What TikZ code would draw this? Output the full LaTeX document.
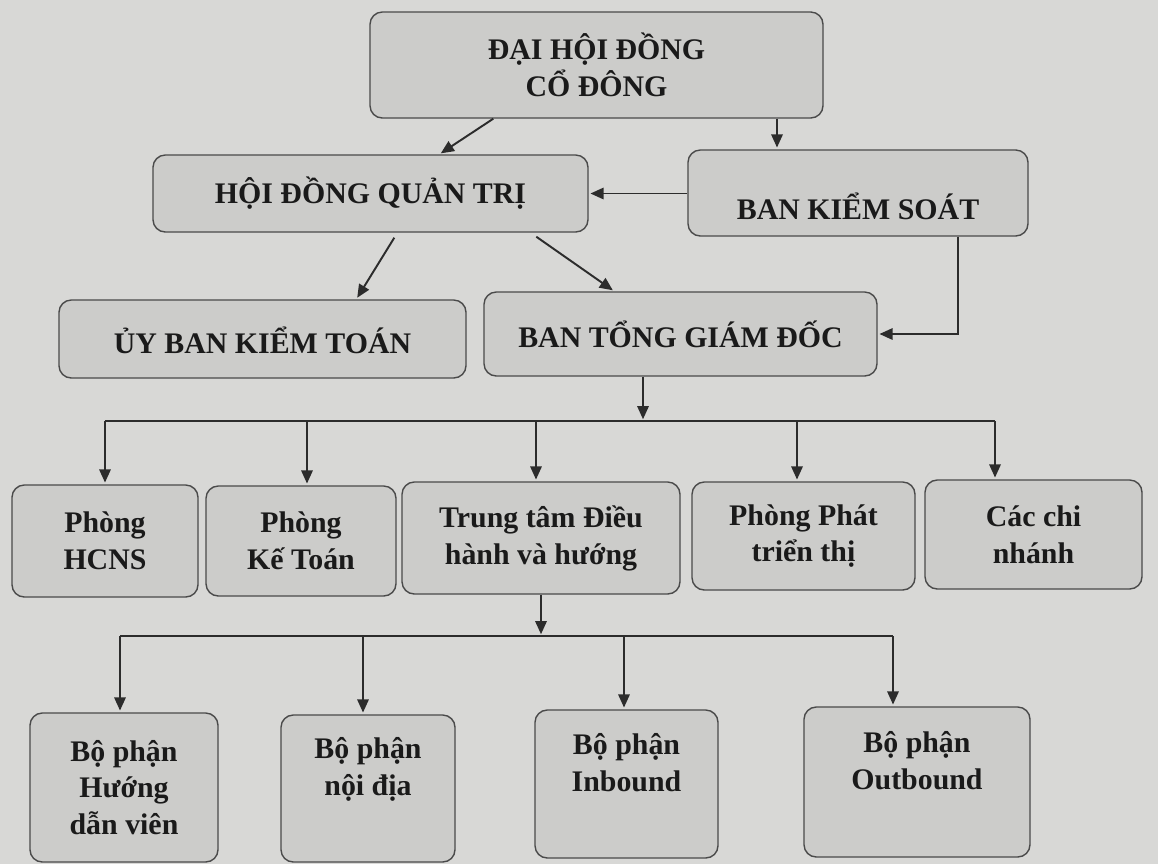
\documentclass[tikz,border=0pt]{standalone}
\usepackage{fontspec}
\setmainfont{Liberation Serif}
\usepackage{xcolor}
\definecolor{paper}{HTML}{D8D8D6}
\definecolor{boxfill}{HTML}{CCCCCA}
\definecolor{ink}{HTML}{1A1A1A}
\definecolor{edge}{HTML}{4A4A4A}
\usetikzlibrary{arrows.meta,calc}

\begin{document}
\begin{tikzpicture}[
		>={Triangle[length=7.5pt,width=6.5pt]},
		unit/.style={draw=edge, line width=0.8pt, fill=boxfill, rounded corners=7pt,
			align=center, text=ink, inner sep=2pt,
			font=\bfseries\fontsize{17}{21}\selectfont},
		link/.style={draw=edge!60!black, line width=1.1pt},
		drop/.style={link, ->, shorten >=1pt}
	]
		\def\busA{-8.42}
		\def\busB{-12.72}

		% paper
		\fill[paper] (0,0) rectangle (23.16,-17.28);
		\useasboundingbox (0,0) rectangle (23.16,-17.28);

		% Upper levels
		\node[unit, minimum width=9.06cm, minimum height=2.12cm] (dhdcd) at (11.93,-1.30) {ĐẠI HỘI ĐỒNG\\CỔ ĐÔNG};
		\node[unit, minimum width=8.70cm, minimum height=1.54cm] (hdqt) at (7.41,-3.87) {HỘI ĐỒNG QUẢN TRỊ};
		\node[unit, minimum width=6.80cm, minimum height=1.72cm, text height=34pt, text depth=4pt] (bks) at (17.16,-3.86) {BAN KIỂM SOÁT};
		\node[unit, minimum width=8.14cm, minimum height=1.56cm, text height=21pt, text depth=4pt] (ubkt) at (5.25,-6.78) {ỦY BAN KIỂM TOÁN};
		\node[unit, minimum width=7.86cm, minimum height=1.68cm] (btgd) at (13.61,-6.68) {BAN TỔNG GIÁM ĐỐC};

		% Departments
		\node[unit, minimum width=3.72cm, minimum height=2.24cm] (hcns) at (2.10,-10.82) {Phòng\\HCNS};
		\node[unit, minimum width=3.80cm, minimum height=2.20cm] (keto) at (6.02,-10.82) {Phòng\\Kế Toán};
		\node[unit, minimum width=5.56cm, minimum height=2.24cm] (ttdh) at (10.82,-10.76) {Trung tâm Điều\\hành và hướng};
		\node[unit, minimum width=4.46cm, minimum height=2.16cm] (ppt) at (16.07,-10.72) {Phòng Phát\\triển thị};
		\node[unit, minimum width=4.34cm, minimum height=2.18cm] (ccn) at (20.67,-10.69) {Các chi\\nhánh};

		% Sections under the operations centre
		\node[unit, minimum width=3.76cm, minimum height=2.98cm] (bphd) at (2.48,-15.75) {Bộ phận\\Hướng\\dẫn viên};
		\node[unit, minimum width=3.48cm, minimum height=2.94cm, text height=33pt, text depth=25pt] (bpnd) at (7.36,-15.77) {Bộ phận\\nội địa};
		\node[unit, minimum width=3.66cm, minimum height=2.96cm, text height=33pt, text depth=25pt] (bpin) at (12.53,-15.68) {Bộ phận\\Inbound};
		\node[unit, minimum width=4.52cm, minimum height=3.00cm, text height=33pt, text depth=25pt] (bpout) at (18.34,-15.64) {Bộ phận\\Outbound};

		% Upper connectors
		\coordinate (kx) at (15.54,0);
		\coordinate (rx) at (19.16,0);
		\draw[drop] ($(dhdcd.south west)+(2.48,0)$) -- ($(hdqt.north west)+(5.74,0)$);
		\draw[drop] (dhdcd.south -| kx) -- (bks.north -| kx);
		\draw[drop] (bks.west |- hdqt.east) -- (hdqt.east);
		\draw[drop] ($(hdqt.south west)+(4.84,-0.10)$) -- ($(ubkt.north west)+(5.96,0)$);
		\draw[drop] ($(hdqt.south west)+(7.68,-0.08)$) -- ($(btgd.north west)+(2.62,0)$);
		\draw[drop] (bks.south -| rx) |- (btgd.east);

		% First bus
		\coordinate (busA) at (12.86,\busA);
		\coordinate (busAw) at (2.10,\busA);
		\coordinate (busAe) at (19.90,\busA);
		\draw[drop] (btgd.south -| busA) -- (busA);
		\draw[link] (busAw) -- (busAe);
		\foreach \n/\x in {hcns/2.10, keto/6.14, ttdh/10.72, ppt/15.94, ccn/19.90}
			\draw[drop] (\x,\busA) -- (\n.north -| \x,0);

		% Second bus
		\coordinate (busB) at (10.82,\busB);
		\coordinate (busBw) at (2.40,\busB);
		\coordinate (busBe) at (17.86,\busB);
		\draw[drop] (ttdh.south -| busB) -- (busB);
		\draw[link] (busBw) -- (busBe);
		\foreach \n/\x in {bphd/2.40, bpnd/7.26, bpin/12.48, bpout/17.86}
			\draw[drop] (\x,\busB) -- (\n.north -| \x,0);
\end{tikzpicture}
\end{document}
